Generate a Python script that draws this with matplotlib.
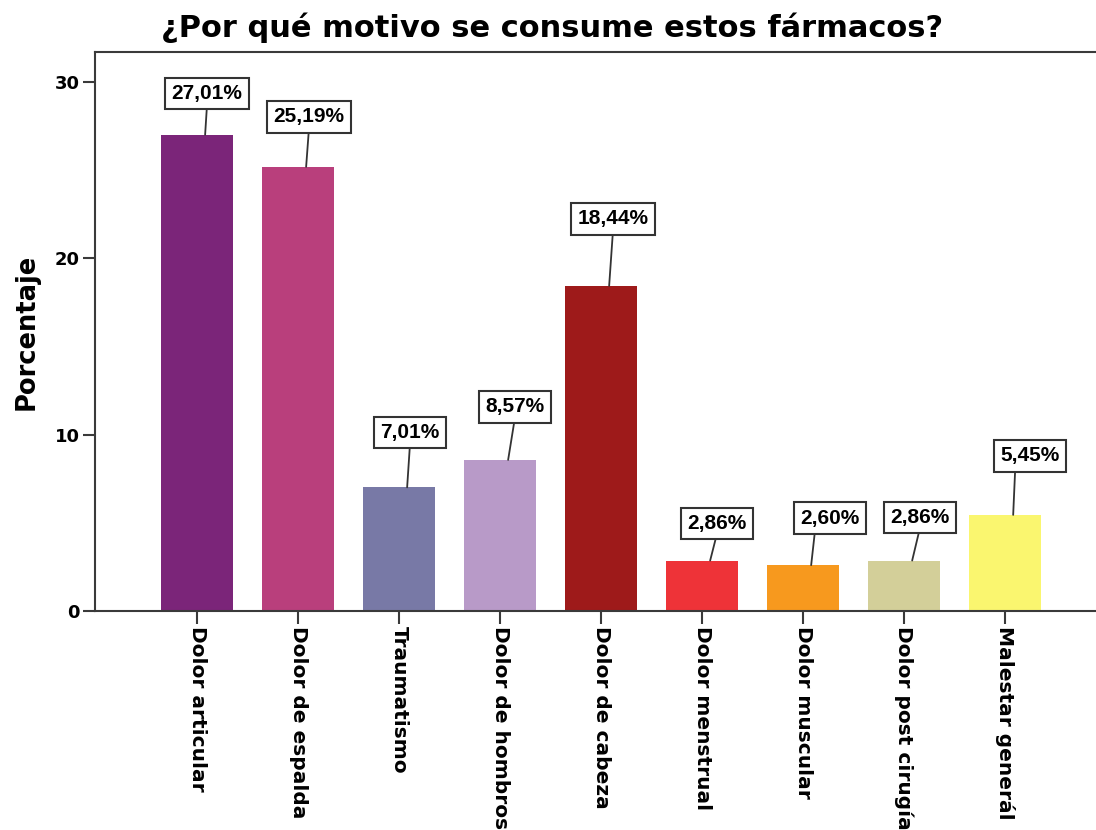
import matplotlib
matplotlib.use("Agg")
import matplotlib.pyplot as plt

categories = ["Dolor articular", "Dolor de espalda", "Traumatismo", "Dolor de hombros",
              "Dolor de cabeza", "Dolor menstrual", "Dolor muscular", "Dolor post cirugía",
              "Malestar generál"]
values = [27.01, 25.19, 7.01, 8.57, 18.44, 2.86, 2.60, 2.86, 5.45]
value_labels = ["27,01%", "25,19%", "7,01%", "8,57%", "18,44%", "2,86%", "2,60%", "2,86%", "5,45%"]
yticks = [0, 10, 20, 30]

colors = ["#7B2579", "#B93F7C", "#7879A6", "#B89AC8", "#9E1A1A",
          "#EE3338", "#F7991E", "#D3CF99", "#FAF66F"]
# label box layout: (dx px, dy px, leader start fraction along box)
label_layout = [(2, 41, 0.5), (3, 50, 0.5), (3, 55, 0.5), (7, 53, 0.5), (4, 67, 0.5),
                (7, 37, 0.5), (19, 47, 0.25), (8, 43, 0.5), (17, 59, 0.25)]

plt.rcParams['font.family'] = ['DejaVu Sans']

fig = plt.figure(figsize=(10.96, 8.30), dpi=100)
ax = fig.add_axes([0.0867, 0.2639, 0.9133, 0.6734])

x = list(range(len(categories)))
ax.bar(x, values, width=0.72, color=colors, edgecolor='none', zorder=2)

ax.set_xlim(-1.01, 8.90)
ax.set_ylim(0, 31.7)
ax.set_yticks(yticks)
ax.set_yticklabels([str(t) for t in yticks], fontsize=13, fontweight='bold')
ax.set_xticks(x)
ax.set_xticklabels(categories, rotation=-90, fontsize=14.5, fontweight='bold',
                   va='top', ha='center')

for side in ['left', 'bottom', 'top']:
    ax.spines[side].set_color('#3a3a3a')
    ax.spines[side].set_linewidth(1.5)
ax.spines['right'].set_visible(False)
ax.tick_params(axis='both', direction='out', length=9, width=1.5, color='#3a3a3a', pad=2)

ax.set_ylabel("Porcentaje", fontsize=18.5, fontweight='bold', labelpad=11)

for xi, v, lab, (dx, dy, rp) in zip(x, values, value_labels, label_layout):
    ax.annotate(lab, xy=(xi + 0.08, v), xytext=(dx, dy), textcoords='offset pixels',
                ha='center', va='center', fontsize=15, fontweight='bold',
                family=['Liberation Sans', 'DejaVu Sans'],
                bbox=dict(boxstyle='square,pad=0.3', fc='white', ec='#333333', lw=1.5),
                arrowprops=dict(arrowstyle='-', color='#333333', lw=1.3,
                                shrinkA=0, shrinkB=0, relpos=(rp, 0.0)), zorder=3)

fig.text(0.504, 0.966, "¿Por qué motivo se consume estos fármacos?", ha='center', va='center',
         fontsize=22, fontweight='bold')

fig.savefig("out.png", dpi=100)
